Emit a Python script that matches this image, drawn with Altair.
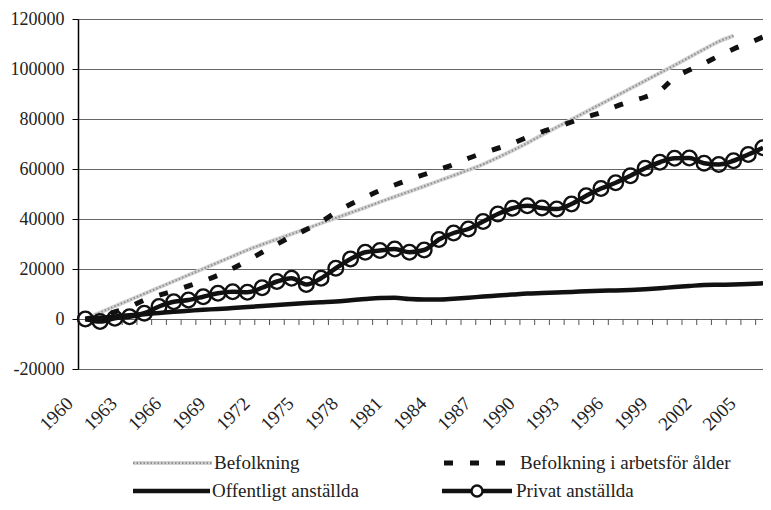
import altair as alt
import pandas as pd

years = list(range(1960, 2007))

befolkning_years = list(range(1960, 2005))
befolkning = [0, 2600, 5100, 7600, 10100, 12600, 15100, 17600, 20100, 22600,
              25100, 27600, 29800, 31900, 34000, 36100, 38300, 40400, 42500, 44600,
              46800, 48900, 51000, 53100, 55300, 57400, 59600, 61900, 64600, 67400,
              70400, 73600, 76700, 79800, 82900, 86000, 89100, 92200, 95300, 98400,
              101500, 104700, 107900, 111000, 113300]

arbetsfor = [0, 1000, 2800, 4800, 7600, 9500, 11300, 13200, 15200, 17500,
             20200, 23300, 26700, 29900, 33000, 35800, 38900, 42600, 45900, 48700,
             51400, 53600, 55800, 57800, 59800, 61800, 64300, 66400, 68300, 70300,
             72700, 74900, 76800, 78800, 80800, 82600, 85000, 87000, 88800, 91300,
             96600, 99600, 102300, 105200, 108000, 110300, 112800]

offentligt = [0, 500, 1000, 1500, 1900, 2400, 2900, 3300, 3700, 4000,
              4400, 4800, 5200, 5600, 6000, 6400, 6700, 7000, 7500, 8000,
              8400, 8500, 8000, 7800, 7800, 8100, 8500, 9000, 9400, 9800,
              10200, 10400, 10600, 10800, 11100, 11300, 11400, 11600, 11900, 12300,
              12800, 13200, 13600, 13700, 13800, 14000, 14300]

privat = [0, -1000, 300, 900, 2300, 5000, 6900, 7600, 8900, 10300,
          10900, 10700, 12500, 15000, 16300, 13800, 16300, 20300, 24000, 26700,
          27400, 28000, 26700, 27600, 31800, 34400, 36000, 39000, 42000, 44300,
          45300, 44400, 44000, 46000, 49300, 52200, 54500, 57300, 60300, 62700,
          64300, 64400, 62300, 61800, 63300, 65800, 68500]

x_label_years = list(range(1960, 2006, 3))
y_ticks = list(range(-20000, 120001, 20000))
legend_labels = ["Befolkning", "Befolkning i arbetsför ålder",
                 "Offentligt anställda", "Privat anställda"]

FONT = "Liberation Serif"
FS = 19

df_bef = pd.DataFrame({"year": befolkning_years, "value": befolkning})
df_arb = pd.DataFrame({"year": years, "value": arbetsfor})
df_off = pd.DataFrame({"year": years, "value": offentligt})
df_pri = pd.DataFrame({"year": years, "value": privat})
df_bounds = pd.DataFrame({"b": [y + 0.5 for y in years[:-1]]})

xscale = alt.Scale(domain=[1959.5, 2006.0], nice=False, zero=False)
yscale = alt.Scale(domain=[-20000, 120000], nice=False, zero=False)

X = alt.X("year:Q", scale=xscale,
          axis=alt.Axis(values=x_label_years, format="d", title=None,
                        domain=False, ticks=False, grid=False,
                        labelAngle=315, labelAlign="right", labelBaseline="middle",
                        labelPadding=31, labelOffset=-16, labelFont=FONT,
                        labelFontSize=FS, labelColor="#222222", labelFlush=False,
                        labelOverlap=False))
Y = alt.Y("value:Q", scale=yscale,
          axis=alt.Axis(values=y_ticks, title=None,
                        labelExpr="datum.value < 0 ? '-' + format(-datum.value, 'd') : format(datum.value, 'd')",
                        domain=True, domainColor="#000000", domainWidth=1.5,
                        ticks=True, tickSize=6, tickColor="#000000",
                        grid=True, gridColor="#666666", gridWidth=1,
                        labelFont=FONT, labelFontSize=18, labelColor="#222222",
                        labelPadding=8))

# tick marks on the zero line at category boundaries
ticks = alt.Chart(df_bounds).mark_rule(color="#555555", strokeWidth=1).encode(
    x=alt.X("b:Q", scale=xscale),
    y=alt.datum(0, scale=yscale),
    y2=alt.datum(-2400),
)

bef_base = alt.Chart(df_bef).mark_line(color="#d2d2d2", strokeWidth=4,
                                        interpolate="monotone").encode(x=X, y=Y)
bef_top = alt.Chart(df_bef).mark_line(color="#8f8f8f", strokeWidth=2,
                                       strokeDash=[1.5, 2],
                                       interpolate="monotone").encode(x=X, y=Y)
arb = alt.Chart(df_arb).mark_line(color="#111111", strokeWidth=5,
                                  strokeDash=[9, 17],
                                  interpolate="monotone").encode(x=X, y=Y)
off = alt.Chart(df_off).mark_line(color="#111111", strokeWidth=4.5,
                                  interpolate="monotone").encode(x=X, y=Y)
pri_pts = alt.Chart(df_pri).mark_point(shape="circle", size=215, filled=False,
                                       color="#111111", strokeWidth=2.4,
                                       opacity=1).encode(x=X, y=Y)
pri_line = alt.Chart(df_pri).mark_line(color="#111111", strokeWidth=4.5,
                                       interpolate="monotone").encode(x=X, y=Y)

# legend (drawn below the plot area)
one = pd.DataFrame({"k": [0]})
ROW1, ROW2 = 444, 472
leg = []
leg.append(alt.Chart(one).mark_rule(color="#d2d2d2", strokeWidth=4).encode(
    x=alt.value(55), x2=alt.value(134), y=alt.value(ROW1)))
leg.append(alt.Chart(one).mark_rule(color="#8f8f8f", strokeWidth=2, strokeDash=[1.5, 2]).encode(
    x=alt.value(55), x2=alt.value(134), y=alt.value(ROW1)))
leg.append(alt.Chart(one).mark_rule(color="#111111", strokeWidth=5, strokeDash=[9, 17]).encode(
    x=alt.value(366), x2=alt.value(436), y=alt.value(ROW1)))
leg.append(alt.Chart(one).mark_rule(color="#111111", strokeWidth=4.5).encode(
    x=alt.value(55), x2=alt.value(132), y=alt.value(ROW2)))
leg.append(alt.Chart(one).mark_rule(color="#111111", strokeWidth=4.5).encode(
    x=alt.value(364), x2=alt.value(434), y=alt.value(ROW2)))
leg.append(alt.Chart(one).mark_point(shape="circle", size=120, filled=True, fill="white",
                                     stroke="#111111", strokeWidth=2.4, opacity=1).encode(
    x=alt.value(399), y=alt.value(ROW2)))
text_pos = [(136, ROW1), (442, ROW1), (134, ROW2), (438, ROW2)]
for lab, (tx, ty) in zip(legend_labels, text_pos):
    leg.append(alt.Chart(one).mark_text(text=lab, align="left", baseline="middle",
                                        font=FONT, fontSize=FS, color="#222222").encode(
        x=alt.value(tx), y=alt.value(ty)))

chart = alt.layer(ticks, bef_base, bef_top, arb, off, pri_pts, pri_line, *leg).properties(
    width=685, height=350, autosize="none",
    padding={"left": 70, "top": 11, "right": 0, "bottom": 135},
).configure_view(stroke=None)

chart.save("out.html", embed_options={"renderer": "svg", "actions": False})
